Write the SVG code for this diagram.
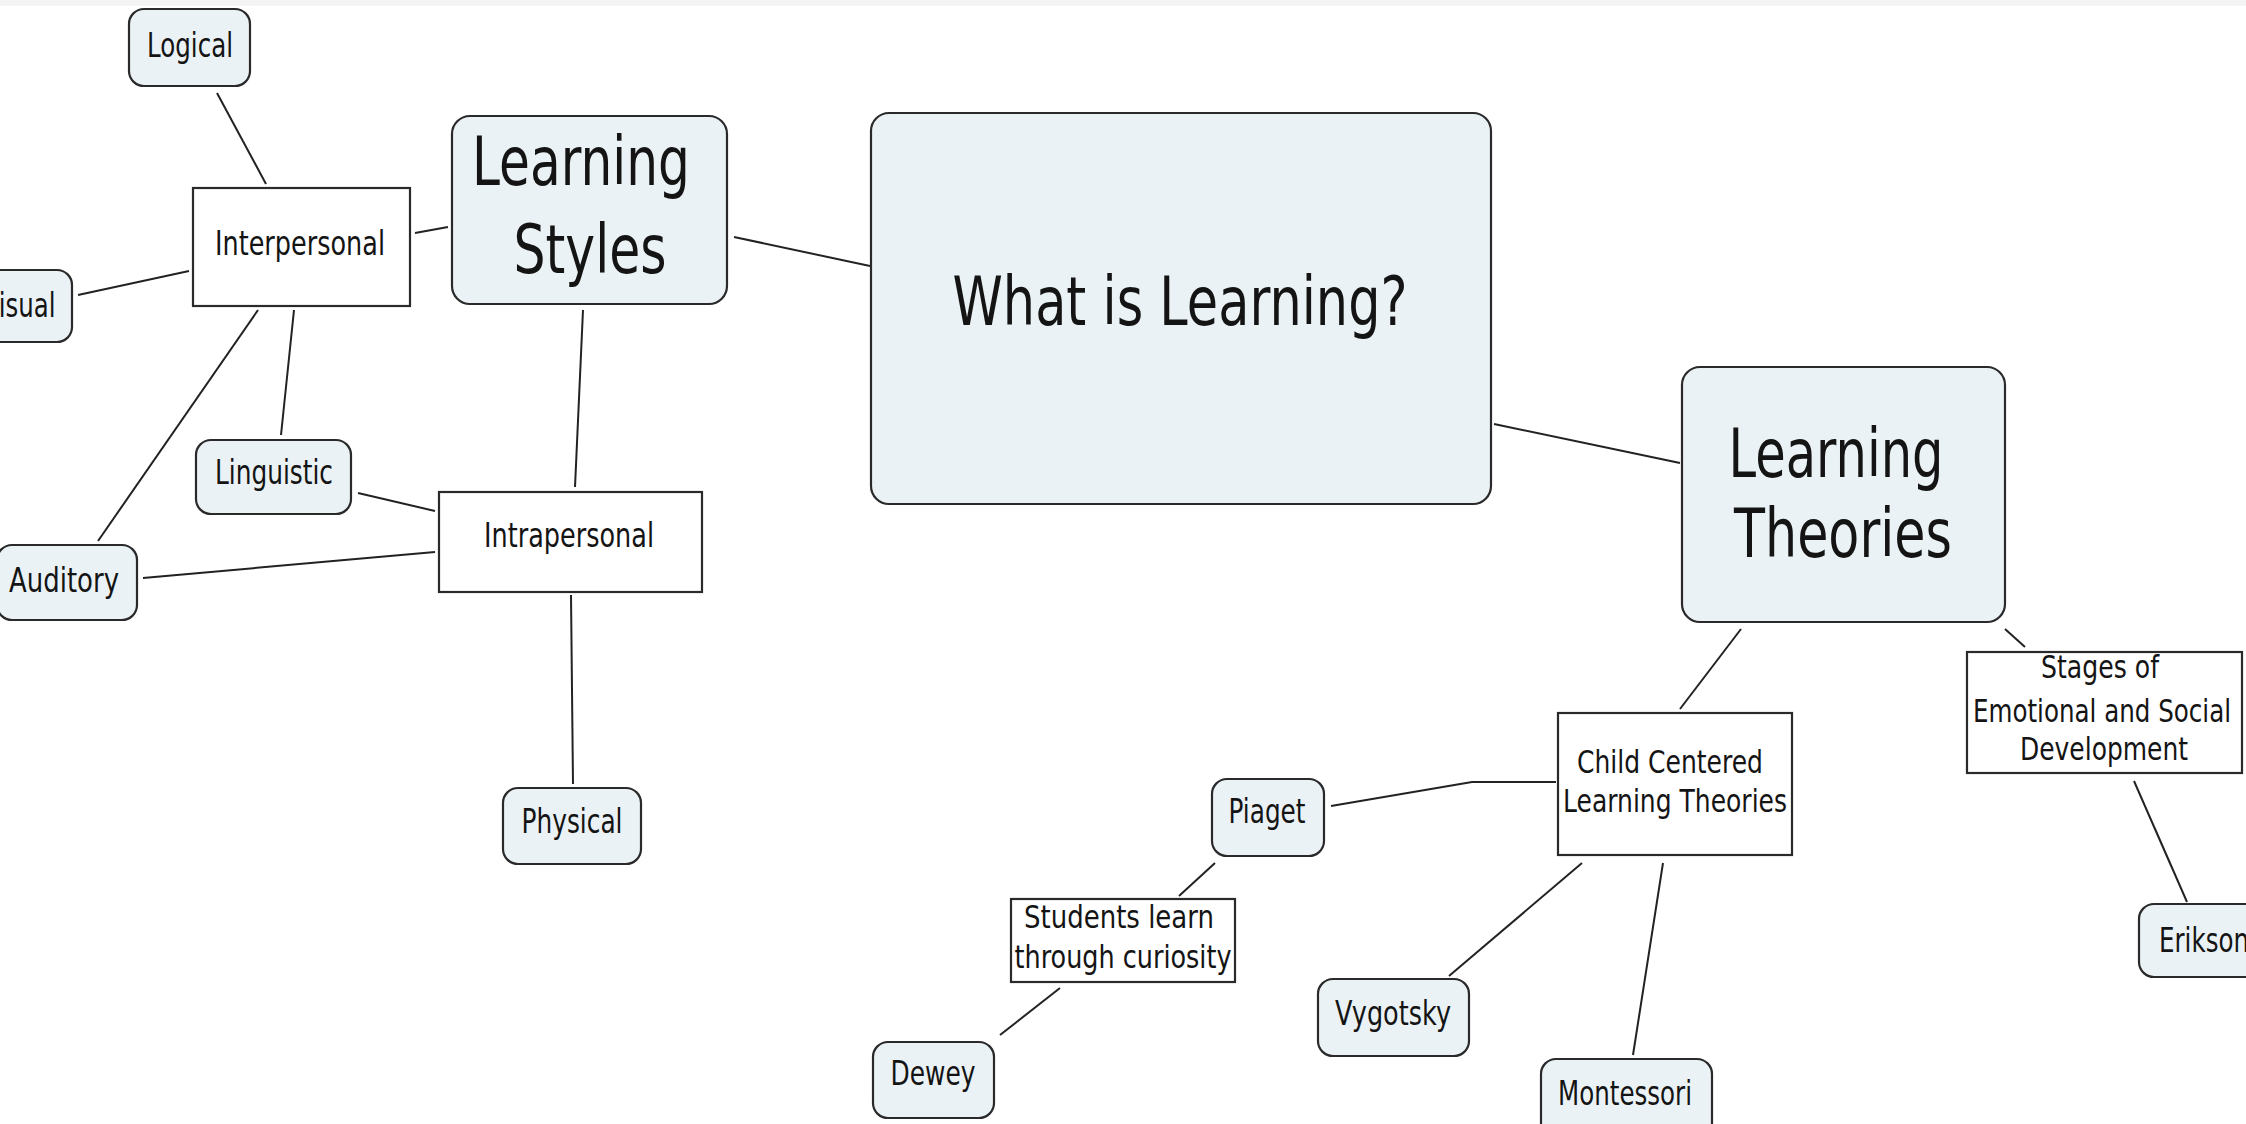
<svg xmlns="http://www.w3.org/2000/svg" width="2246" height="1124" viewBox="0 0 2246 1124">
  <style>
    .concept rect { fill: #ebf2f5; stroke: #2a2a2a; stroke-width: 2.2; }
    .phrase rect { fill: #ffffff; stroke: #2a2a2a; stroke-width: 2.2; }
    text { font-family: "DejaVu Sans", Verdana, sans-serif; fill: #141414; text-anchor: middle; }
    .s { font-size: 34px; }
    .m { font-size: 32px; }
    .l { font-size: 67px; }
    #links line, #links polyline { stroke: #222; stroke-width: 2; fill: none; }
  </style>

  <rect x="0" y="0" width="2246" height="1124" fill="#ffffff"/>
  <rect x="0" y="0" width="2246" height="6" fill="#f4f4f4"/>

  <!-- connectors -->
  <g id="links">
    <line x1="734" y1="237" x2="870" y2="266"/>
    <line x1="1494" y1="424" x2="1680" y2="463"/>
    <line x1="217" y1="93" x2="266" y2="184"/>
    <line x1="415" y1="233" x2="448" y2="227"/>
    <line x1="78" y1="295" x2="189" y2="271"/>
    <line x1="258" y1="310" x2="98" y2="541"/>
    <line x1="294" y1="310" x2="281" y2="435"/>
    <line x1="583" y1="310" x2="575" y2="487"/>
    <line x1="358" y1="493" x2="435" y2="511"/>
    <line x1="143" y1="578" x2="435" y2="552"/>
    <line x1="571" y1="595" x2="573" y2="784"/>
    <line x1="1741" y1="629" x2="1680" y2="709"/>
    <line x1="2005" y1="629" x2="2025" y2="647"/>
    <line x1="2134" y1="781" x2="2187" y2="902"/>
    <polyline points="1331,806 1472,782 1556,782"/>
    <line x1="1215" y1="863" x2="1179" y2="896"/>
    <line x1="1060" y1="988" x2="1000" y2="1035"/>
    <line x1="1582" y1="863" x2="1449" y2="976"/>
    <line x1="1663" y1="863" x2="1633" y2="1055"/>
  </g>

  <!-- Learning styles branch -->
  <g id="logical" class="concept">
    <rect x="129" y="9" width="121" height="77" rx="15"/>
    <text class="s" x="190" y="57" textLength="86" lengthAdjust="spacingAndGlyphs">Logical</text>
  </g>
  <g id="interpersonal" class="phrase">
    <rect x="193" y="188" width="217" height="118"/>
    <text class="s" x="300" y="255" textLength="170" lengthAdjust="spacingAndGlyphs">Interpersonal</text>
  </g>
  <g id="visual" class="concept">
    <rect x="-42" y="270" width="114" height="72" rx="15"/>
    <text class="s" x="19" y="317" textLength="73" lengthAdjust="spacingAndGlyphs">Visual</text>
  </g>
  <g id="learning-styles" class="concept">
    <rect x="452" y="116" width="275" height="188" rx="18"/>
    <text class="l" x="581" y="185" textLength="218" lengthAdjust="spacingAndGlyphs">Learning</text>
    <text class="l" x="590" y="273" textLength="153" lengthAdjust="spacingAndGlyphs">Styles</text>
  </g>
  <g id="linguistic" class="concept">
    <rect x="196" y="440" width="155" height="74" rx="15"/>
    <text class="s" x="274" y="484" textLength="118" lengthAdjust="spacingAndGlyphs">Linguistic</text>
  </g>
  <g id="auditory" class="concept">
    <rect x="-3" y="545" width="140" height="75" rx="15"/>
    <text class="s" x="64" y="592" textLength="110" lengthAdjust="spacingAndGlyphs">Auditory</text>
  </g>
  <g id="intrapersonal" class="phrase">
    <rect x="439" y="492" width="263" height="100"/>
    <text class="s" x="569" y="547" textLength="170" lengthAdjust="spacingAndGlyphs">Intrapersonal</text>
  </g>
  <g id="physical" class="concept">
    <rect x="503" y="788" width="138" height="76" rx="15"/>
    <text class="s" x="572" y="833" textLength="101" lengthAdjust="spacingAndGlyphs">Physical</text>
  </g>

  <!-- central concept -->
  <g id="what-is-learning" class="concept">
    <rect x="871" y="113" width="620" height="391" rx="18"/>
    <text class="l" x="1180" y="325" textLength="455" lengthAdjust="spacingAndGlyphs">What is Learning?</text>
  </g>

  <!-- Learning theories branch -->
  <g id="learning-theories" class="concept">
    <rect x="1682" y="367" width="323" height="255" rx="18"/>
    <text class="l" x="1836" y="477" textLength="215" lengthAdjust="spacingAndGlyphs">Learning</text>
    <text class="l" x="1843" y="557" textLength="218" lengthAdjust="spacingAndGlyphs">Theories</text>
  </g>
  <g id="child-centered" class="phrase">
    <rect x="1558" y="713" width="234" height="142"/>
    <text class="m" x="1670" y="773" textLength="186" lengthAdjust="spacingAndGlyphs">Child Centered</text>
    <text class="m" x="1675" y="812" textLength="224" lengthAdjust="spacingAndGlyphs">Learning Theories</text>
  </g>
  <g id="stages" class="phrase">
    <rect x="1967" y="652" width="275" height="121"/>
    <text class="m" x="2100" y="678" textLength="118" lengthAdjust="spacingAndGlyphs">Stages of</text>
    <text class="m" x="2102" y="722" textLength="258" lengthAdjust="spacingAndGlyphs">Emotional and Social</text>
    <text class="m" x="2104" y="760" textLength="168" lengthAdjust="spacingAndGlyphs">Development</text>
  </g>
  <g id="erikson" class="concept">
    <rect x="2139" y="904" width="140" height="73" rx="15"/>
    <text class="s" x="2204" y="952" textLength="90" lengthAdjust="spacingAndGlyphs">Erikson</text>
  </g>
  <g id="piaget" class="concept">
    <rect x="1212" y="779" width="112" height="77" rx="15"/>
    <text class="s" x="1267" y="823" textLength="77" lengthAdjust="spacingAndGlyphs">Piaget</text>
  </g>
  <g id="students-learn" class="phrase">
    <rect x="1011" y="899" width="224" height="83"/>
    <text class="m" x="1119" y="928" textLength="190" lengthAdjust="spacingAndGlyphs">Students learn</text>
    <text class="m" x="1123" y="968" textLength="217" lengthAdjust="spacingAndGlyphs">through curiosity</text>
  </g>
  <g id="dewey" class="concept">
    <rect x="873" y="1042" width="121" height="76" rx="15"/>
    <text class="s" x="933" y="1085" textLength="85" lengthAdjust="spacingAndGlyphs">Dewey</text>
  </g>
  <g id="vygotsky" class="concept">
    <rect x="1318" y="979" width="151" height="77" rx="15"/>
    <text class="s" x="1393" y="1025" textLength="116" lengthAdjust="spacingAndGlyphs">Vygotsky</text>
  </g>
  <g id="montessori" class="concept">
    <rect x="1541" y="1059" width="171" height="80" rx="15"/>
    <text class="s" x="1625" y="1105" textLength="134" lengthAdjust="spacingAndGlyphs">Montessori</text>
  </g>
</svg>
